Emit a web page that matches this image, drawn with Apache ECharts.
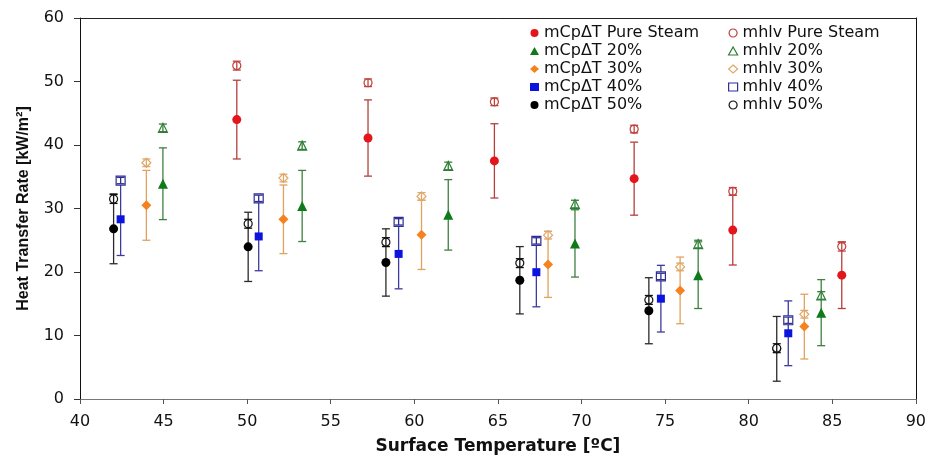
<!DOCTYPE html>
<html>
<head>
<meta charset="utf-8">
<script src="https://cdn.jsdelivr.net/npm/echarts@6/dist/echarts.min.js"></script>
<style>html,body{margin:0;padding:0;background:#fff;}#chart{width:929px;height:460px;}</style>
</head>
<body>
<div id="chart"></div>
<script>
// ---- data ----
const xTicks = [40, 45, 50, 55, 60, 65, 70, 75, 80, 85, 90];
const yTicks = [0, 10, 20, 30, 40, 50, 60];

const tempPure = [49.38, 57.23, 64.79, 73.15, 79.05, 85.57];
const mcpPure = [44.0, 41.1, 37.5, 34.7, 26.6, 19.5];
const mcpPureErr = [6.2, 6.0, 5.85, 5.75, 5.5, 5.25];
const mhlvPure = [52.5, 49.8, 46.8, 42.5, 32.7, 24.0];
const mhlvPureErr = [0.7, 0.6, 0.6, 0.6, 0.6, 0.7];

const temp20 = [44.96, 53.29, 62.03, 69.61, 76.98, 84.34];
const mcp20 = [33.9, 30.4, 29.0, 24.5, 19.5, 13.6];
const mcp20Err = [5.65, 5.6, 5.55, 5.3, 5.25, 5.2];
const mhlv20 = [42.7, 39.9, 36.7, 30.7, 24.4, 16.3];
const mhlv20Err = [0.6, 0.6, 0.6, 0.6, 0.6, 0.6];

const temp30 = [43.97, 52.17, 60.43, 68.0, 75.9, 83.33];
const mcp30 = [30.5, 28.3, 25.85, 21.2, 17.1, 11.4];
const mcp30Err = [5.5, 5.4, 5.45, 5.2, 5.25, 5.1];
const mhlv30 = [37.2, 34.8, 31.9, 25.8, 20.8, 13.35];
const mhlv30Err = [0.6, 0.6, 0.6, 0.6, 0.6, 0.6];

const temp40 = [42.43, 50.69, 59.06, 67.30, 74.75, 82.37];
const mcp40 = [28.3, 25.6, 22.85, 19.97, 15.8, 10.35];
const mcp40Err = [5.7, 5.4, 5.5, 5.45, 5.25, 5.1];
const mhlv40 = [34.4, 31.6, 27.9, 24.9, 19.3, 12.4];
const mhlv40Err = [0.5, 0.5, 0.5, 0.5, 0.5, 0.5];

const temp50 = [42.01, 50.06, 58.30, 66.31, 74.03, 81.68];
const mcp50 = [26.8, 23.96, 21.5, 18.7, 13.9, 7.9];
const mcp50Err = [5.5, 5.45, 5.3, 5.3, 5.2, 5.1];
const mhlv50 = [31.5, 27.6, 24.7, 21.4, 15.6, 8.0];
const mhlv50Err = [0.7, 0.7, 0.7, 0.7, 0.7, 0.7];

const names = {
  mP: 'mCpΔT Pure Steam', hP: 'mhlv Pure Steam',
  m20: 'mCpΔT 20%', h20: 'mhlv 20%',
  m30: 'mCpΔT 30%', h30: 'mhlv 30%',
  m40: 'mCpΔT 40%', h40: 'mhlv 40%',
  m50: 'mCpΔT 50%', h50: 'mhlv 50%'
};

// ---- helpers ----
function pts(xs, ys) { return xs.map((x, i) => [x, ys[i]]); }
function errPts(xs, ys, es) { return xs.map((x, i) => [x, ys[i], es[i]]); }

function errSeries(xs, ys, es, color, z) {
  return {
    type: 'custom',
    z: z,
    silent: true,
    clip: false,
    data: errPts(xs, ys, es),
    renderItem: function (params, api) {
      const x = api.value(0), y = api.value(1), e = api.value(2);
      const top = api.coord([x, y + e]);
      const bot = api.coord([x, y - e]);
      const hw = 4;
      const st = { stroke: color, lineWidth: 1.3 };
      return {
        type: 'group',
        children: [
          { type: 'line', shape: { x1: top[0], y1: top[1], x2: bot[0], y2: bot[1] }, style: st },
          { type: 'line', shape: { x1: top[0] - hw, y1: top[1], x2: top[0] + hw, y2: top[1] }, style: st },
          { type: 'line', shape: { x1: bot[0] - hw, y1: bot[1], x2: bot[0] + hw, y2: bot[1] }, style: st }
        ]
      };
    }
  };
}

function filled(name, xs, ys, symbol, size, color) {
  return { type: 'scatter', name: name, data: pts(xs, ys), symbol: symbol, symbolSize: size,
    z: 5, itemStyle: { color: color, opacity: 1 } };
}
function hollow(name, xs, ys, symbol, size, color) {
  return { type: 'scatter', name: name, data: pts(xs, ys), symbol: symbol, symbolSize: size,
    z: 6, itemStyle: { color: '#ffffff', borderColor: color, borderWidth: 1.2, opacity: 1 } };
}

const C = {
  red: '#e3161c', redBar: '#b4403c', redH: '#c0403c',
  green: '#0e7a1a', greenBar: '#3f8040', greenH: '#2f7f35',
  orange: '#f5821f', orangeBar: '#e3a15e', orangeH: '#dfa868',
  blue: '#0a14de', blueBar: '#3c3ca0', blueH: '#2e2e95',
  black: '#000000', blackBar: '#2a2a2a', blackH: '#111111'
};

const series = [
  errSeries(tempPure, mcpPure, mcpPureErr, C.redBar, 2),
  errSeries(temp20, mcp20, mcp20Err, C.greenBar, 2),
  errSeries(temp30, mcp30, mcp30Err, C.orangeBar, 2),
  errSeries(temp40, mcp40, mcp40Err, C.blueBar, 2),
  errSeries(temp50, mcp50, mcp50Err, C.blackBar, 2),
  filled(names.mP, tempPure, mcpPure, 'circle', 9, C.red),
  filled(names.m20, temp20, mcp20, 'triangle', 10, C.green),
  filled(names.m30, temp30, mcp30, 'diamond', 10, C.orange),
  filled(names.m40, temp40, mcp40, 'rect', 8, C.blue),
  filled(names.m50, temp50, mcp50, 'circle', 9, C.black),
  hollow(names.hP, tempPure, mhlvPure, 'circle', 8, C.redH),
  hollow(names.h20, temp20, mhlv20, 'triangle', 9, C.greenH),
  hollow(names.h30, temp30, mhlv30, 'diamond', 9, C.orangeH),
  hollow(names.h40, temp40, mhlv40, 'rect', 9, C.blueH),
  hollow(names.h50, temp50, mhlv50, 'circle', 8, C.blackH),
  errSeries(tempPure, mhlvPure, mhlvPureErr, C.redH, 7),
  errSeries(temp20, mhlv20, mhlv20Err, C.greenH, 7),
  errSeries(temp30, mhlv30, mhlv30Err, C.orangeH, 7),
  errSeries(temp40, mhlv40, mhlv40Err, C.blueH, 7),
  errSeries(temp50, mhlv50, mhlv50Err, C.blackH, 7)
];

const legendText = { fontFamily: 'DejaVu Sans', fontSize: 16, color: '#111', lineHeight: 16 };
function li(name, icon, color, hollowIcon) {
  return { name: name, icon: icon,
    itemStyle: hollowIcon ? { color: '#fff', borderColor: color, borderWidth: 1.2 } : { color: color, borderWidth: 0 } };
}

const chart = echarts.init(document.getElementById('chart'), null, { renderer: 'canvas' });
chart.setOption({
  animation: false,
  backgroundColor: '#ffffff',
  grid: { left: 80, right: 12, top: 18, bottom: 61, containLabel: false },
  legend: [
    { orient: 'vertical', left: 525, top: 20, itemWidth: 9, itemHeight: 8, itemGap: 2,
      textStyle: legendText, selectedMode: false,
      data: [li(names.mP, 'circle', C.red), li(names.m20, 'triangle', C.green), li(names.m30, 'diamond', C.orange),
             li(names.m40, 'rect', C.blue), li(names.m50, 'circle', C.black)] },
    { orient: 'vertical', left: 723, top: 20, itemWidth: 9, itemHeight: 8, itemGap: 2,
      textStyle: legendText, selectedMode: false,
      data: [li(names.hP, 'circle', C.redH, true), li(names.h20, 'triangle', C.greenH, true), li(names.h30, 'diamond', C.orangeH, true),
             li(names.h40, 'rect', C.blueH, true), li(names.h50, 'circle', C.blackH, true)] }
  ],
  xAxis: [
    { type: 'value', min: xTicks[0], max: xTicks[xTicks.length - 1], interval: xTicks[1] - xTicks[0],
      name: 'Surface Temperature [ºC]', nameLocation: 'middle', nameGap: 39,
      nameTextStyle: { fontFamily: 'DejaVu Sans', fontWeight: 'bold', fontSize: 17, color: '#111' },
      axisLine: { show: true, onZero: false, lineStyle: { color: '#777', width: 1 } },
      axisTick: { show: true, inside: false, length: 5, lineStyle: { color: '#555' } },
      axisLabel: { fontFamily: 'DejaVu Sans', fontSize: 16, color: '#111', margin: 15 },
      splitLine: { show: false } },
    { type: 'value', position: 'top', min: xTicks[0], max: xTicks[xTicks.length - 1],
      axisLine: { show: true, onZero: false, lineStyle: { color: '#222', width: 1 } },
      axisTick: { show: false }, axisLabel: { show: false }, splitLine: { show: false } }
  ],
  yAxis: [
    { type: 'value', min: yTicks[0], max: yTicks[yTicks.length - 1], interval: yTicks[1] - yTicks[0],
      name: 'Heat Transfer Rate [kW/m²]', nameLocation: 'middle', nameGap: 48,
      nameTextStyle: { fontFamily: 'Liberation Sans', fontWeight: 'bold', fontSize: 16, color: '#111' },
      axisLine: { show: true, onZero: false, lineStyle: { color: '#111', width: 1 } },
      axisTick: { show: true, inside: false, length: 6, lineStyle: { color: '#333' } },
      axisLabel: { fontFamily: 'DejaVu Sans', fontSize: 16, color: '#111', margin: 16 },
      splitLine: { show: false } },
    { type: 'value', position: 'right', min: yTicks[0], max: yTicks[yTicks.length - 1],
      axisLine: { show: true, onZero: false, lineStyle: { color: '#111', width: 1 } },
      axisTick: { show: false }, axisLabel: { show: false }, splitLine: { show: false } }
  ],
  series: series
});
</script>
</body>
</html>
